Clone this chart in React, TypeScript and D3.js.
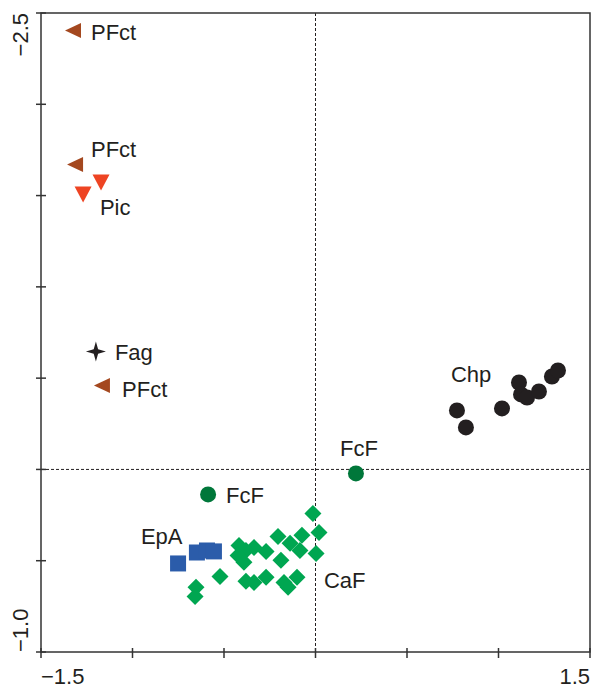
import * as d3 from "d3";
import React from "react";

// ordination scores
const pfctX = [-1.325, -1.314, -1.167];
const pfctY = [2.404, 1.670, 0.46];
const picX = [-1.172, -1.27];
const picY = [1.572, 1.506];
const fagX = [-1.2];
const fagY = [0.646];
const chpX = [0.773, 0.822, 1.019, 1.112, 1.123, 1.156, 1.221, 1.292, 1.325];
const chpY = [0.323, 0.230, 0.334, 0.476, 0.411, 0.394, 0.427, 0.509, 0.542];
const fcfX = [0.221, -0.587];
const fcfY = [-0.022, -0.137];
const epaX = [-0.751, -0.648, -0.593, -0.555];
const epaY = [-0.515, -0.455, -0.444, -0.449];
const cafX = [-0.014, 0.019, 0.003, -0.074, -0.085, -0.139, -0.205, -0.189, -0.270, -0.336, -0.380, -0.418,
  -0.423, -0.391, -0.101, -0.172, -0.150, -0.270, -0.336, -0.380, -0.522, -0.653, -0.658];
const cafY = [-0.241, -0.345, -0.460, -0.361, -0.444, -0.405, -0.367, -0.498, -0.449, -0.427, -0.444, -0.416,
  -0.471, -0.509, -0.591, -0.619, -0.646, -0.591, -0.619, -0.613, -0.586, -0.646, -0.696];

// group labels (text start, vertical centre) in data units
const labelText = ["PFct", "PFct", "Pic", "Fag", "PFct", "Chp", "FcF", "FcF", "EpA", "CaF"];
const labelX = [-1.227, -1.227, -1.178, -1.096, -1.057, 0.740, 0.134, -0.489, -0.954, 0.046];
const labelY = [2.393, 1.752, 1.435, 0.641, 0.438, 0.520, 0.115, -0.142, -0.367, -0.608];

const xTicks = [-1.5, -1.0, -0.5, 0, 0.5, 1.0, 1.5];
const yTicks = [-1.0, -0.5, 0, 0.5, 1.0, 1.5, 2.0, 2.5];
const xTickLabels = ["\u22121.5", "", "", "", "", "", "1.5"];
const yTickLabels = ["\u22121.0", "", "", "", "", "", "", "\u22122.5"];

const W = 591;
const H = 685;
const margin = { top: 13, right: 1, bottom: 33, left: 41 };
const ink = "#231f20";
const font = "'Liberation Sans', Arial, sans-serif";

const leftTri = "M-8,0L8,-7.5L8,7.5Z";
const downTri = "M-8.5,-8L8.5,-8L0,8Z";
const diamond = "M0,-8.5L8.5,0L0,8.5L-8.5,0Z";
const star = "M0,-10L2.2,-2.2L10,0L2.2,2.2L0,10L-2.2,2.2L-10,0L-2.2,-2.2Z";

export default function App() {
  const x = d3.scaleLinear().domain([-1.5, 1.5]).range([margin.left, W - margin.right]);
  const y = d3.scaleLinear().domain([-1.0, 2.5]).range([H - margin.bottom, margin.top]);
  const x0 = x(-1.5), x1 = x(1.5), y0 = y(-1.0), y1 = y(2.5);

  const pts = (xs: number[], ys: number[]) => xs.map((v, i) => [x(v), y(ys[i])]);

  return (
    <svg width={W} height={H} style={{ position: "absolute", left: 0, top: 0, background: "#fff" }}
      fontFamily={font}>
      {/* reference lines */}
      <line x1={x(0)} x2={x(0)} y1={y1} y2={y0} stroke={ink} strokeWidth={1} strokeDasharray="3,2" />
      <line x1={x0} x2={x1} y1={y(0)} y2={y(0)} stroke={ink} strokeWidth={1} strokeDasharray="3,2" />

      {/* frame */}
      <rect x={x0} y={y1} width={x1 - x0} height={y0 - y1} fill="none" stroke="#333" strokeWidth={1.5} />

      {/* x axis ticks */}
      {xTicks.map((t, i) => (
        <g key={"xt" + i}>
          <line x1={x(t)} x2={x(t)} y1={y0 - 4} y2={y0 + 6} stroke="#333" strokeWidth={1.5} />
          {xTickLabels[i] && (
            <text x={x(t)} y={H - 1} fontSize={22} fill={ink}
              textAnchor={i === 0 ? "start" : "end"}>{xTickLabels[i]}</text>
          )}
        </g>
      ))}

      {/* y axis ticks */}
      {yTicks.map((t, i) => (
        <g key={"yt" + i}>
          <line x1={x0 - 5} x2={x0 + 5} y1={y(t)} y2={y(t)} stroke="#333" strokeWidth={1.5} />
          {yTickLabels[i] && (
            <text transform={`translate(28,${y(t)}) rotate(-90)`} fontSize={22} fill={ink}
              textAnchor={i === 0 ? "start" : "end"}>{yTickLabels[i]}</text>
          )}
        </g>
      ))}

      {/* points */}
      {pts(cafX, cafY).map(([px, py], i) => (
        <path key={"caf" + i} d={diamond} transform={`translate(${px},${py})`} fill="#00a651" />
      ))}
      {pts(epaX, epaY).map(([px, py], i) => (
        <rect key={"epa" + i} x={px - 8} y={py - 8} width={16} height={16} fill="#2b5caa" />
      ))}
      {pts(fcfX, fcfY).map(([px, py], i) => (
        <circle key={"fcf" + i} cx={px} cy={py} r={8} fill="#00773a" />
      ))}
      {pts(chpX, chpY).map(([px, py], i) => (
        <circle key={"chp" + i} cx={px} cy={py} r={8} fill={ink} />
      ))}
      {pts(pfctX, pfctY).map(([px, py], i) => (
        <path key={"pf" + i} d={leftTri} transform={`translate(${px},${py})`} fill="#a4481f" />
      ))}
      {pts(picX, picY).map(([px, py], i) => (
        <path key={"pic" + i} d={downTri} transform={`translate(${px},${py})`} fill="#ee4423" />
      ))}
      {pts(fagX, fagY).map(([px, py], i) => (
        <path key={"fag" + i} d={star} transform={`translate(${px},${py})`} fill={ink} />
      ))}

      {/* labels */}
      {labelText.map((t, i) => (
        <text key={"lab" + i} x={x(labelX[i])} y={y(labelY[i])} dy="0.36em" fontSize={22} fill={ink}>{t}</text>
      ))}
    </svg>
  );
}
